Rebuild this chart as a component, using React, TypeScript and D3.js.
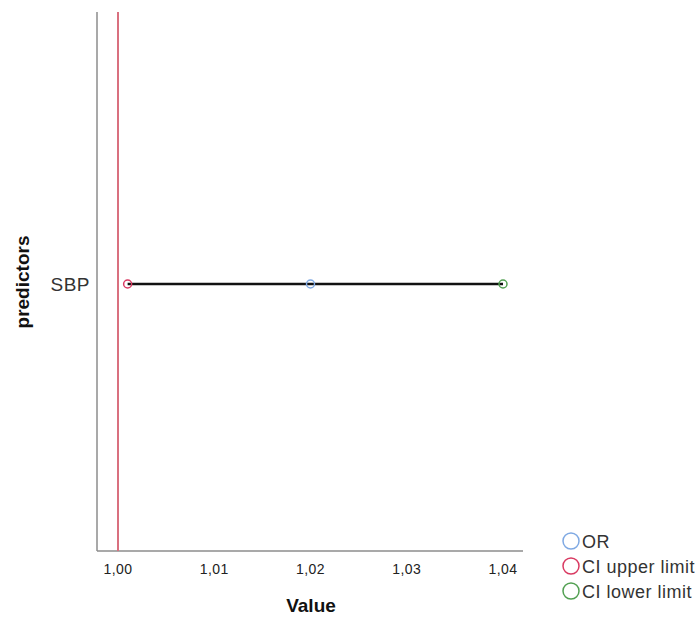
import React from 'react'
import * as d3 from 'd3'

const width = 697
const height = 619

const predictors = ['SBP']
const orValues = [1.02]
const ciUpper = [1.001]
const ciLower = [1.04]
const xTicks = [1.0, 1.01, 1.02, 1.03, 1.04]
const refValue = [1.0]
const legendLabels = ['OR', 'CI upper limit', 'CI lower limit']

const colors = {
  or: '#7fa9e3',
  upper: '#d93a62',
  lower: '#52a052',
  ref: '#d9707f',
  axis: '#8c8c8c',
}
const legendColors = [colors.or, colors.upper, colors.lower]

const plot = { left: 97, right: 523, top: 12, bottom: 551 }

export default function App() {
  const xScale = d3.scaleLinear().domain([1.0, 1.04]).range([118, 503])
  const yScale = d3
    .scaleBand()
    .domain(predictors)
    .range([plot.top, plot.bottom])
    .paddingInner(0)

  const fmt = (v: number) => d3.format('.2f')(v).replace('.', ',')

  return (
    <svg
      width={width}
      height={height}
      style={{ position: 'absolute', left: 0, top: 0, fontFamily: 'Liberation Sans, Arial, sans-serif' }}
    >
      {/* axes */}
      <line x1={plot.left} x2={plot.left} y1={plot.top} y2={plot.bottom} stroke={colors.axis} strokeWidth={1.5} />
      <line x1={plot.left} x2={plot.right} y1={plot.bottom} y2={plot.bottom} stroke={colors.axis} strokeWidth={1.5} />

      {/* reference line */}
      {refValue.map((v) => (
        <line key={v} x1={xScale(v)} x2={xScale(v)} y1={plot.top} y2={plot.bottom} stroke={colors.ref} strokeWidth={2} />
      ))}

      {xTicks.map((t) => (
        <text key={t} x={xScale(t)} y={574} textAnchor="middle" fontSize={14} letterSpacing={0.4} fill="#222">
          {fmt(t)}
        </text>
      ))}

      {predictors.map((p, i) => {
        const cy = (yScale(p) ?? 0) + yScale.bandwidth() / 2 + 2.5
        return (
          <g key={p}>
            <text x={90} y={cy} textAnchor="end" dominantBaseline="central" fontSize={19} letterSpacing={0.5} fill="#333">
              {p}
            </text>
            <line x1={xScale(ciUpper[i])} x2={xScale(ciLower[i])} y1={cy} y2={cy} stroke="#111" strokeWidth={2.5} />
            <circle cx={xScale(orValues[i])} cy={cy} r={4} fill="none" stroke={colors.or} strokeWidth={1.5} />
            <circle cx={xScale(ciUpper[i])} cy={cy} r={4} fill="none" stroke={colors.upper} strokeWidth={1.5} />
            <circle cx={xScale(ciLower[i])} cy={cy} r={4} fill="none" stroke={colors.lower} strokeWidth={1.5} />
          </g>
        )
      })}

      <text x={311} y={612} textAnchor="middle" fontSize={19} fontWeight="bold" fill="#111">
        Value
      </text>
      <text
        transform="translate(29,282) rotate(-90)"
        textAnchor="middle"
        fontSize={19}
        fontWeight="bold"
        fill="#111"
      >
        predictors
      </text>

      {legendLabels.map((l, i) => (
        <g key={l} transform={`translate(571,${541 + i * 25})`}>
          <circle cx={0} cy={0} r={8} fill="none" stroke={legendColors[i]} strokeWidth={1.5} />
          <text x={11} y={1} dominantBaseline="central" fontSize={18} letterSpacing={0.5} fill="#333">
            {l}
          </text>
        </g>
      ))}
    </svg>
  )
}
